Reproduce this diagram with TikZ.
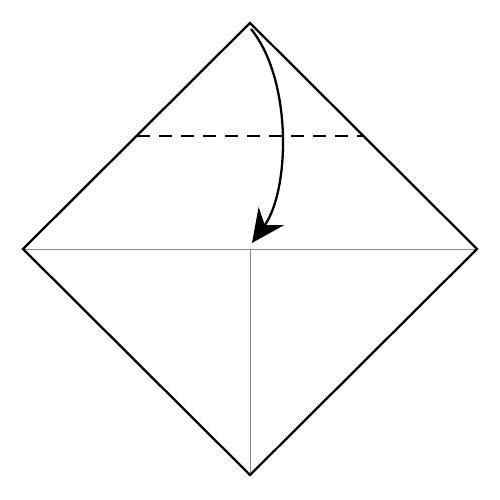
\documentclass[tikz,border=0pt]{standalone}
\usepackage{tikz}
\usetikzlibrary{arrows.meta,calc}

\begin{document}
\begin{tikzpicture}[
edgeline/.style={draw=black, line width=1.3pt, line join=miter},
creaseline/.style={draw=black!45, line width=0.5pt},
foldline/.style={draw=black, line width=1.6pt, dash pattern=on 0.26cm off 0.18cm},
foldarrow/.style={draw=black, line width=1.3pt, -{Stealth[length=0.66cm, width=0.62cm, inset=0.22cm]}},
]
\useasboundingbox (0,0) rectangle (10,10);
\coordinate (T) at (5,9.54);
\coordinate (L) at (0.46,5.02);
\coordinate (R) at (9.54,5.02);
\coordinate (B) at (5,0.5);
\coordinate (O) at (5,5.02);
\coordinate (FL) at (2.74,7.28);
\coordinate (FR) at (7.26,7.28);
\draw[creaseline] (L) -- (R);
\draw[creaseline] (O) -- (B);
\draw[foldline] (FL) -- (FR);
\draw[edgeline] (T) -- (R) -- (B) -- (L) -- cycle;
\draw[foldarrow] (5.02,9.42) .. controls (5.85,8.4) and (5.8,6.2) .. (5.04,5.14);
\end{tikzpicture}
\end{document}
